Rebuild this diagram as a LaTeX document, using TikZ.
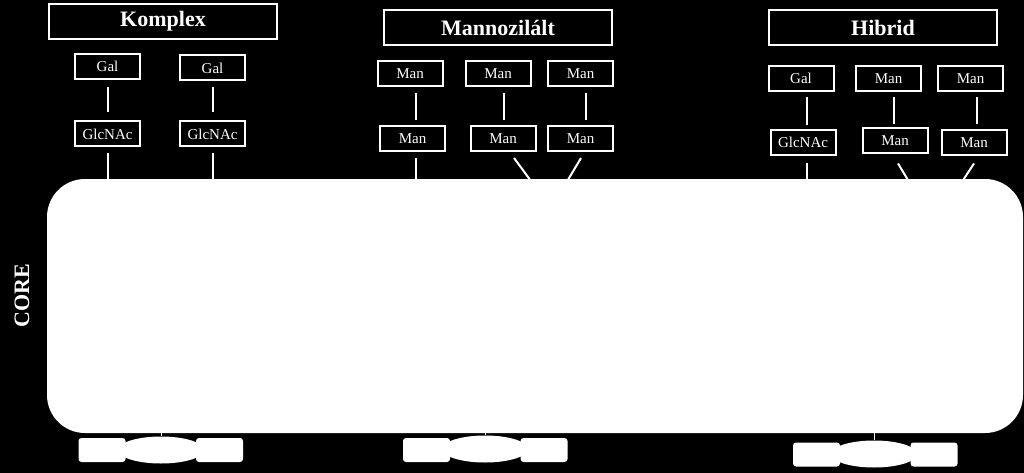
\documentclass[tikz,border=0pt]{standalone}
\usepackage{fontspec}
\setmainfont{Liberation Serif}
\usetikzlibrary{shapes.geometric,calc}
\begin{document}
\begin{tikzpicture}[x=1pt,y=-1pt,
  title/.style={draw=white, line width=2pt, fill=black, text=white,
    font=\bfseries\fontsize{22}{26}\selectfont,
    minimum width=228pt, minimum height=35pt, inner sep=0pt},
  sugar/.style={draw=white, line width=2pt, fill=black, text=white,
    font=\fontsize{15}{18}\selectfont,
    minimum width=65pt, minimum height=25pt, inner sep=0pt},
  tail/.style={draw=white, line width=2pt},
  corebox/.style={fill=white, rounded corners=38pt, minimum width=976pt,
    minimum height=254pt, inner sep=0pt},
  brect/.style={fill=white, rounded corners=3pt, minimum width=47pt,
    minimum height=24pt, inner sep=0pt},
  bell/.style={ellipse, fill=white, minimum width=86pt, minimum height=27pt,
    inner sep=0pt},
  tick/.style={draw=white, line width=1pt}]
\useasboundingbox (0,0) rectangle (1024,473);
\fill[black] (0,0) rectangle (1024,473);

% titles
\node[title] (tk) at (163,21.5) {Komplex};
\node[title] (tm) at (498,27.5) {Mannozilált};
\node[title] (th) at (883,27.5) {Hibrid};

% Komplex
\node[sugar] (kg1) at (107.5,66.5) {Gal};
\node[sugar] (kg2) at (212.5,68) {Gal};
\node[sugar] (kn1) at (107.5,134) {GlcNAc};
\node[sugar] (kn2) at (212.5,134) {GlcNAc};
\draw[tail] ($(kg1.south)+(0.5,7)$) -- ($(kn1.north)+(0.5,-8)$);
\draw[tail] ($(kg2.south)+(0,6)$) -- ($(kn2.north)+(0,-8)$);
\coordinate (kc1) at (108,200);
\coordinate (kc2) at (212.5,200);
\draw[tail] ($(kn1.south)+(0.5,6)$) -- (kc1);
\draw[tail] ($(kn2.south)+(0,6)$) -- (kc2);

% Mannozilalt
\node[sugar] (m1) at (410,74) {Man};
\node[sugar] (m2) at (498,74) {Man};
\node[sugar] (m3) at (580.5,74) {Man};
\node[sugar] (m4) at (412.5,138.5) {Man};
\node[sugar] (m5) at (503,138.5) {Man};
\node[sugar] (m6) at (580.5,138.5) {Man};
\draw[tail] ($(m1.south)+(6,6)$) -- ($(m4.north)+(3.5,-5)$);
\draw[tail] ($(m2.south)+(6,6)$) -- ($(m5.north)+(1,-5)$);
\draw[tail] ($(m3.south)+(5.5,6)$) -- ($(m6.north)+(5.5,-5)$);
\coordinate (mc4) at (416,200);
\coordinate (mc5) at (545,200);
\coordinate (mc6) at (556,200);
\draw[tail] ($(m4.south)+(3.5,6)$) -- (mc4);
\draw[tail] ($(m5.south)+(11,6)$) -- (mc5);
\draw[tail] ($(m6.south)+(0.5,6)$) -- (mc6);

% Hibrid
\node[sugar] (hg) at (801,78.5) {Gal};
\node[sugar] (h2) at (888.5,78.5) {Man};
\node[sugar] (h3) at (970.5,78.5) {Man};
\node[sugar] (hn) at (803,142.5) {GlcNAc};
\node[sugar] (h5) at (895,141) {Man};
\node[sugar] (h6) at (974,143) {Man};
\draw[tail] ($(hg.south)+(6,5)$) -- ($(hn.north)+(4,-4)$);
\draw[tail] ($(h2.south)+(5.5,5)$) -- ($(h5.north)+(-1,-3)$);
\draw[tail] ($(h3.south)+(6.5,5)$) -- ($(h6.north)+(3,-5)$);
\coordinate (hc4) at (807,200);
\coordinate (hc5) at (920,200);
\coordinate (hc6) at (950,200);
\draw[tail] ($(hn.south)+(4,7)$) -- (hc4);
\draw[tail] ($(h5.south)+(3,9)$) -- (hc5);
\draw[tail] ($(h6.south)+(0,7)$) -- (hc6);

% core
\node[corebox] (core) at (535,306) {};
\node[rotate=90, text=white, font=\bfseries\fontsize{22}{26}\selectfont] (corelabel) at (22,296) {CORE};

% bottom groups
\node[bell] (e1) at (161,450) {};
\node[brect] (r1) at (102,450) {};
\node[brect] (r2) at (219.5,450) {};
\node[bell] (e2) at (485,449) {};
\node[brect] (r3) at (426.5,450) {};
\node[brect] (r4) at (544,450) {};
\node[bell] (e3) at (874,454) {};
\node[brect] (r5) at (816.5,454.5) {};
\node[brect] (r6) at (934,454.5) {};
\draw[tick] (core.south -| e1) -- (e1.north);
\draw[tick] (core.south -| e2) -- (e2.north);
\draw[tick] (core.south -| e3) -- (e3.north);
\end{tikzpicture}
\end{document}
